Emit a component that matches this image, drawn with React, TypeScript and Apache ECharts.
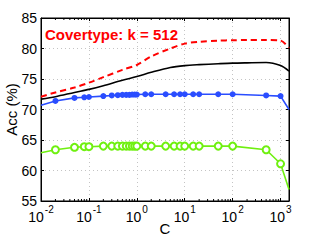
import React, { useEffect, useRef } from "react";
import * as echarts from "echarts";

const markerC = [0.01, 0.02, 0.05, 0.08, 0.1, 0.2, 0.3, 0.4, 0.5, 0.6, 0.7, 0.8, 0.9, 1, 1.5, 2, 4, 6, 8, 10, 15, 20, 50, 100, 500, 1000, 1500];
const blueAcc = [70.7, 71.4, 71.9, 72.0, 72.05, 72.2, 72.3, 72.35, 72.4, 72.4, 72.4, 72.45, 72.45, 72.45, 72.5, 72.5, 72.5, 72.5, 72.5, 72.5, 72.5, 72.5, 72.5, 72.5, 72.3, 72.2, 70.0];
const greenAcc = [62.9, 63.4, 63.8, 63.9, 63.9, 64.0, 64.0, 64.0, 64.0, 64.0, 64.0, 64.0, 64.0, 64.0, 64.0, 64.0, 64.0, 64.0, 64.0, 64.0, 64.0, 64.0, 64.0, 64.0, 63.4, 61.1, 56.9];

const smoothC = [0.01, 0.02, 0.05, 0.1, 0.2, 0.5, 1, 2, 5, 10, 20, 50, 100, 200, 500, 1000, 1500];
const blackAcc = [71.7, 72.1, 72.8, 73.3, 73.9, 74.8, 75.4, 76.1, 76.9, 77.2, 77.35, 77.5, 77.6, 77.65, 77.7, 77.2, 76.3];
const redAcc = [72.1, 72.8, 73.6, 74.4, 75.3, 76.5, 77.3, 78.7, 80.0, 80.8, 81.1, 81.3, 81.35, 81.4, 81.4, 81.3, 80.1];

const yTicks = [55, 60, 65, 70, 75, 80, 85];
const minorTickC = [
  0.02, 0.03, 0.04, 0.05, 0.06, 0.07, 0.08, 0.09,
  0.2, 0.3, 0.4, 0.5, 0.6, 0.7, 0.8, 0.9,
  2, 3, 4, 5, 6, 7, 8, 9,
  20, 30, 40, 50, 60, 70, 80, 90,
  200, 300, 400, 500, 600, 700, 800, 900,
];
const titleText = "Covertype: k = 512";

const FONT = "Liberation Sans, Arial, Helvetica, sans-serif";

function pts(xs: number[], ys: number[], markFirstLast: boolean) {
  return xs.map((x, i) => {
    const edge = i === 0 || i === xs.length - 1;
    if (markFirstLast && edge) {
      return { value: [x, ys[i]], symbol: "none" };
    }
    return { value: [x, ys[i]] };
  });
}

export default function App() {
  const ref = useRef<HTMLDivElement>(null);
  useEffect(() => {
    document.body.style.margin = "0";
    const chart = echarts.init(ref.current!, null, { renderer: "svg" });
    const fmt = (v: number) => {
      const l = Math.log10(v);
      const e = Math.round(l);
      if (Math.abs(l - e) > 1e-6) return "";
      return "{b|10}{s|" + (e < 0 ? "-" : "") + Math.abs(e) + "}";
    };
    const xCommon = {
      type: "log" as const,
      logBase: 10,
      min: 0.01,
      max: 1500,
    };
    chart.setOption({
      animation: false,
      grid: {
        left: 41,
        right: 30,
        top: 18,
        bottom: 39,
        show: true,
        borderColor: "#000",
        borderWidth: 1,
        backgroundColor: "transparent",
        outerBoundsMode: "none",
      },
      graphic: [
        {
          type: "text",
          left: 45,
          top: 27,
          z: 10,
          style: {
            text: titleText,
            fill: "#ff0000",
            font: "bold 15px " + FONT,
          },
        },
      ],
      xAxis: [
        {
          ...xCommon,
          position: "bottom",
          name: "C",
          nameLocation: "middle",
          nameGap: 20,
          nameMoveOverlap: false,
          nameTextStyle: { fontSize: 15, color: "#000", fontFamily: FONT },
          axisLine: { show: true, lineStyle: { color: "#000", width: 1 } },
          axisTick: { show: true, inside: true, length: 3, lineStyle: { color: "#000" } },
          axisLabel: {
            formatter: fmt,
            margin: 3,
            color: "#000",
            showMaxLabel: false,
            rich: {
              b: { fontSize: 14, fontFamily: FONT, color: "#000", verticalAlign: "bottom", lineHeight: 20 },
              s: { fontSize: 10, fontFamily: FONT, color: "#000", verticalAlign: "top", lineHeight: 20, padding: [0, 0, 0, 1] },
            },
          },
          splitLine: { show: true, lineStyle: { color: "#c4c4c4", type: [1, 3], width: 1 } },
        },
        {
          ...xCommon,
          position: "top",
          axisLine: { show: true, lineStyle: { color: "#000", width: 1 } },
          axisTick: { show: true, inside: true, length: 3, lineStyle: { color: "#000" } },
          axisLabel: { show: false },
          splitLine: { show: false },
        },
      ],
      yAxis: [
        {
          type: "value",
          min: 55,
          max: 85,
          interval: 5,
          position: "left",
          name: "Acc (%)",
          nameLocation: "middle",
          nameGap: 22,
          nameMoveOverlap: false,
          nameTextStyle: { fontSize: 15, color: "#000", fontFamily: FONT },
          axisLine: { show: true, lineStyle: { color: "#000", width: 1 } },
          axisTick: { show: true, inside: true, length: 3, lineStyle: { color: "#000" } },
          axisLabel: {
            margin: 4,
            fontSize: 14,
            color: "#000",
            fontFamily: FONT,
            formatter: (v: number) => (yTicks.includes(v) ? String(v) : ""),
          },
          splitLine: { show: true, lineStyle: { color: "#c4c4c4", type: [1, 3], width: 1 } },
        },
        {
          type: "value",
          min: 55,
          max: 85,
          interval: 5,
          position: "right",
          axisLine: { show: true, lineStyle: { color: "#000", width: 1 } },
          axisTick: { show: true, inside: true, length: 3, lineStyle: { color: "#000" } },
          axisLabel: { show: false },
          splitLine: { show: false },
        },
      ],
      series: [
        {
          type: "custom",
          silent: true,
          clip: false,
          data: minorTickC.map((c) => [c, 55]),
          encode: { x: 0, y: 1 },
          renderItem: (params: any, api: any) => {
            const x = api.coord([api.value(0), api.value(1)])[0];
            const cs = params.coordSys;
            const bottom = cs.y + cs.height;
            const st = { stroke: "#000", lineWidth: 1 };
            return {
              type: "group",
              children: [
                { type: "line", shape: { x1: x, y1: bottom, x2: x, y2: bottom - 2 }, style: st },
                { type: "line", shape: { x1: x, y1: cs.y, x2: x, y2: cs.y + 2 }, style: st },
              ],
            };
          },
          z: 2,
        },
        {
          type: "line",
          data: pts(smoothC, redAcc, false),
          smooth: 0.3,
          showSymbol: false,
          symbol: "none",
          lineStyle: { color: "#ff0000", width: 2, type: [6, 4] },
          z: 3,
        },
        {
          type: "line",
          data: pts(smoothC, blackAcc, false),
          smooth: 0.3,
          showSymbol: false,
          symbol: "none",
          lineStyle: { color: "#000", width: 1.6 },
          z: 3,
        },
        {
          type: "line",
          data: pts(markerC, blueAcc, true),
          symbol: "circle",
          symbolSize: 6,
          lineStyle: { color: "#2a4dff", width: 1.6 },
          itemStyle: { color: "#2a4dff" },
          z: 4,
        },
        {
          type: "line",
          data: pts(markerC, greenAcc, true),
          symbol: "emptyCircle",
          symbolSize: 7,
          lineStyle: { color: "#6ff010", width: 1.6 },
          itemStyle: { color: "#6ff010", borderColor: "#6ff010", borderWidth: 1.5 },
          z: 4,
        },
      ],
    });
    return () => chart.dispose();
  }, []);
  return <div ref={ref} style={{ width: 319, height: 240 }} />;
}
